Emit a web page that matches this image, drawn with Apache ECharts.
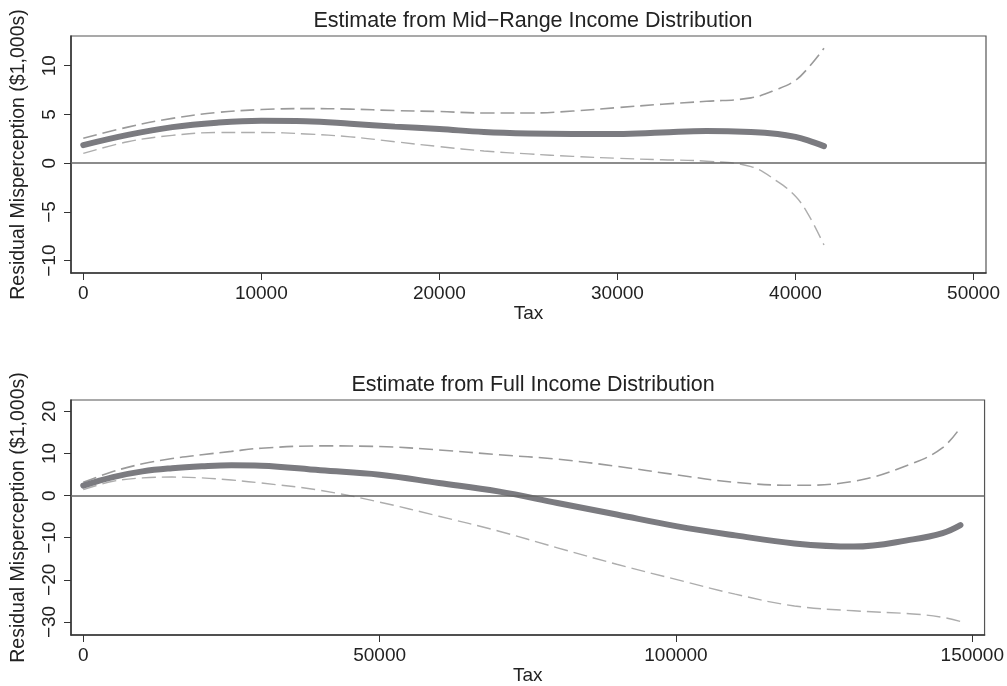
<!DOCTYPE html>
<html>
<head>
<meta charset="utf-8">
<script src="https://cdn.jsdelivr.net/npm/echarts@6/dist/echarts.min.js"></script>
<style>
html,body{margin:0;padding:0;background:#fff;}
#chart{width:1007px;height:686px;}
</style>
</head>
<body>
<div id="chart"></div>
<script>
// ---- Data ----
var topTitle = 'Estimate from Mid\u2212Range Income Distribution';
var botTitle = 'Estimate from Full Income Distribution';
var yName = 'Residual Misperception ($1,000s)';
var xName = 'Tax';

var topX     = [0,2500,5000,7500,10000,12500,15000,17500,20000,22500,25000,27500,30000,32500,35000,37500,39000,40000,40700,41600];
var topMain  = [1.85,2.9,3.7,4.15,4.35,4.3,4.05,3.75,3.5,3.2,3.05,3.0,3.0,3.15,3.3,3.2,3.0,2.7,2.35,1.75];
var topUpper = [2.55,3.7,4.6,5.2,5.5,5.6,5.55,5.4,5.3,5.15,5.15,5.35,5.7,6.05,6.35,6.7,7.6,8.5,9.75,11.8];
var topLower = [1.0,2.2,2.85,3.15,3.15,3.0,2.7,2.2,1.7,1.25,0.95,0.7,0.5,0.35,0.2,-0.35,-1.9,-3.4,-5.2,-8.4];

var botX     = [0,5000,10000,15000,20000,25000,30000,40000,50000,60000,70000,80000,90000,100000,110000,120000,130000,140000,145000,148000];
var botMain  = [2.36,4.4,5.75,6.5,6.95,7.2,7.1,6.0,4.95,3.0,1.0,-1.75,-4.5,-7.25,-9.45,-11.35,-12.1,-10.4,-8.9,-7.0];
var botUpper = [3.15,5.7,7.55,8.8,9.7,10.5,11.25,11.8,11.65,10.85,9.7,8.65,6.95,4.95,3.15,2.45,3.4,7.7,11.4,16.2];
var botLower = [1.42,3.4,4.2,4.4,4.2,3.7,3.0,1.25,-1.55,-4.9,-8.4,-12.4,-16.3,-19.9,-23.4,-26.2,-27.35,-28.1,-28.9,-29.9];

var topXTicks = [0,10000,20000,30000,40000,50000];
var topYTicks = [-10,-5,0,5,10];
var botXTicks = [0,50000,100000,150000];
var botYTicks = [-30,-20,-10,0,10,20];

function pairs(xs, ys){ return xs.map(function(x,i){ return [x, ys[i]]; }); }
function fmt(v){ return String(v).replace('-', '\u2212'); }

var FONT = 'Liberation Sans, Arial, Helvetica, sans-serif';
var axisCol = '#333';

function xAxisDef(gi, min, max, ticks){
  return {
    type:'value', gridIndex:gi, min:min, max:max,
    name:xName, nameLocation:'middle', nameGap:31,
    nameTextStyle:{fontFamily:FONT, fontSize:19, color:'#222'},
    axisLine:{show:true, onZero:false, lineStyle:{color:axisCol, width:1.5}},
    axisTick:{show:true, length:7, customValues:ticks, lineStyle:{color:axisCol, width:1}},
    axisLabel:{customValues:ticks, margin:11, fontFamily:FONT, fontSize:19, color:'#222',
      formatter:fmt, showMinLabel:true, showMaxLabel:true},
    splitLine:{show:false}
  };
}
function yAxisDef(gi, min, max, ticks){
  return {
    type:'value', gridIndex:gi, min:min, max:max,
    name:yName, nameLocation:'middle', nameGap:42, nameRotate:90,
    nameTextStyle:{fontFamily:FONT, fontSize:19.5, color:'#222'},
    axisLine:{show:true, onZero:false, lineStyle:{color:axisCol, width:1.5}},
    axisTick:{show:true, length:7, customValues:ticks, lineStyle:{color:axisCol, width:1}},
    axisLabel:{customValues:ticks, rotate:90, margin:12, fontFamily:FONT, fontSize:19, color:'#222', formatter:fmt},
    splitLine:{show:false}
  };
}

function lineSeries(gi, xs, ys, kind){
  var s = {
    type:'line', xAxisIndex:gi, yAxisIndex:gi, data:pairs(xs, ys),
    showSymbol:false, symbol:'none', smooth:0.4, silent:true, z:3
  };
  if(kind==='main'){ s.lineStyle={color:'#7b7b80', width:6, cap:'round'}; s.z=4; }
  if(kind==='upper'){ s.lineStyle={color:'#9a9a9a', width:1.6, type:[14,6]}; }
  if(kind==='lower'){ s.lineStyle={color:'#adadad', width:1.4, type:[14,6]}; }
  return s;
}
function zeroLine(gi){
  return {
    type:'line', xAxisIndex:gi, yAxisIndex:gi, data:[], silent:true,
    markLine:{silent:true, symbol:'none', label:{show:false},
      lineStyle:{color:'#666', width:1.5, type:'solid'},
      data:[{yAxis:0}]}
  };
}

var chart = echarts.init(document.getElementById('chart'), null, {renderer:'canvas'});
chart.setOption({
  animation:false,
  backgroundColor:'#fff',
  title:[
    {text:topTitle, left:528, textAlign:'center', top:5,
      textStyle:{fontFamily:FONT, fontSize:21.5, fontWeight:'normal', color:'#222'}},
    {text:botTitle, left:528, textAlign:'center', top:369,
      textStyle:{fontFamily:FONT, fontSize:21.5, fontWeight:'normal', color:'#222'}}
  ],
  grid:[
    {left:71, top:36, width:915, height:237, show:true, borderColor:'#555', borderWidth:1.2, backgroundColor:'transparent'},
    {left:71, top:400, width:915, height:236, show:true, borderColor:'#555', borderWidth:1.2, backgroundColor:'transparent'}
  ],
  xAxis:[ xAxisDef(0, -690, 50700, topXTicks), xAxisDef(1, -2070, 152070, botXTicks) ],
  yAxis:[ yAxisDef(0, -11.27, 13.05, topYTicks), yAxisDef(1, -33.1, 22.7, botYTicks) ],
  series:[
    zeroLine(0),
    lineSeries(0, topX, topUpper, 'upper'),
    lineSeries(0, topX, topLower, 'lower'),
    lineSeries(0, topX, topMain, 'main'),
    zeroLine(1),
    lineSeries(1, botX, botUpper, 'upper'),
    lineSeries(1, botX, botLower, 'lower'),
    lineSeries(1, botX, botMain, 'main')
  ]
});
</script>
</body>
</html>
